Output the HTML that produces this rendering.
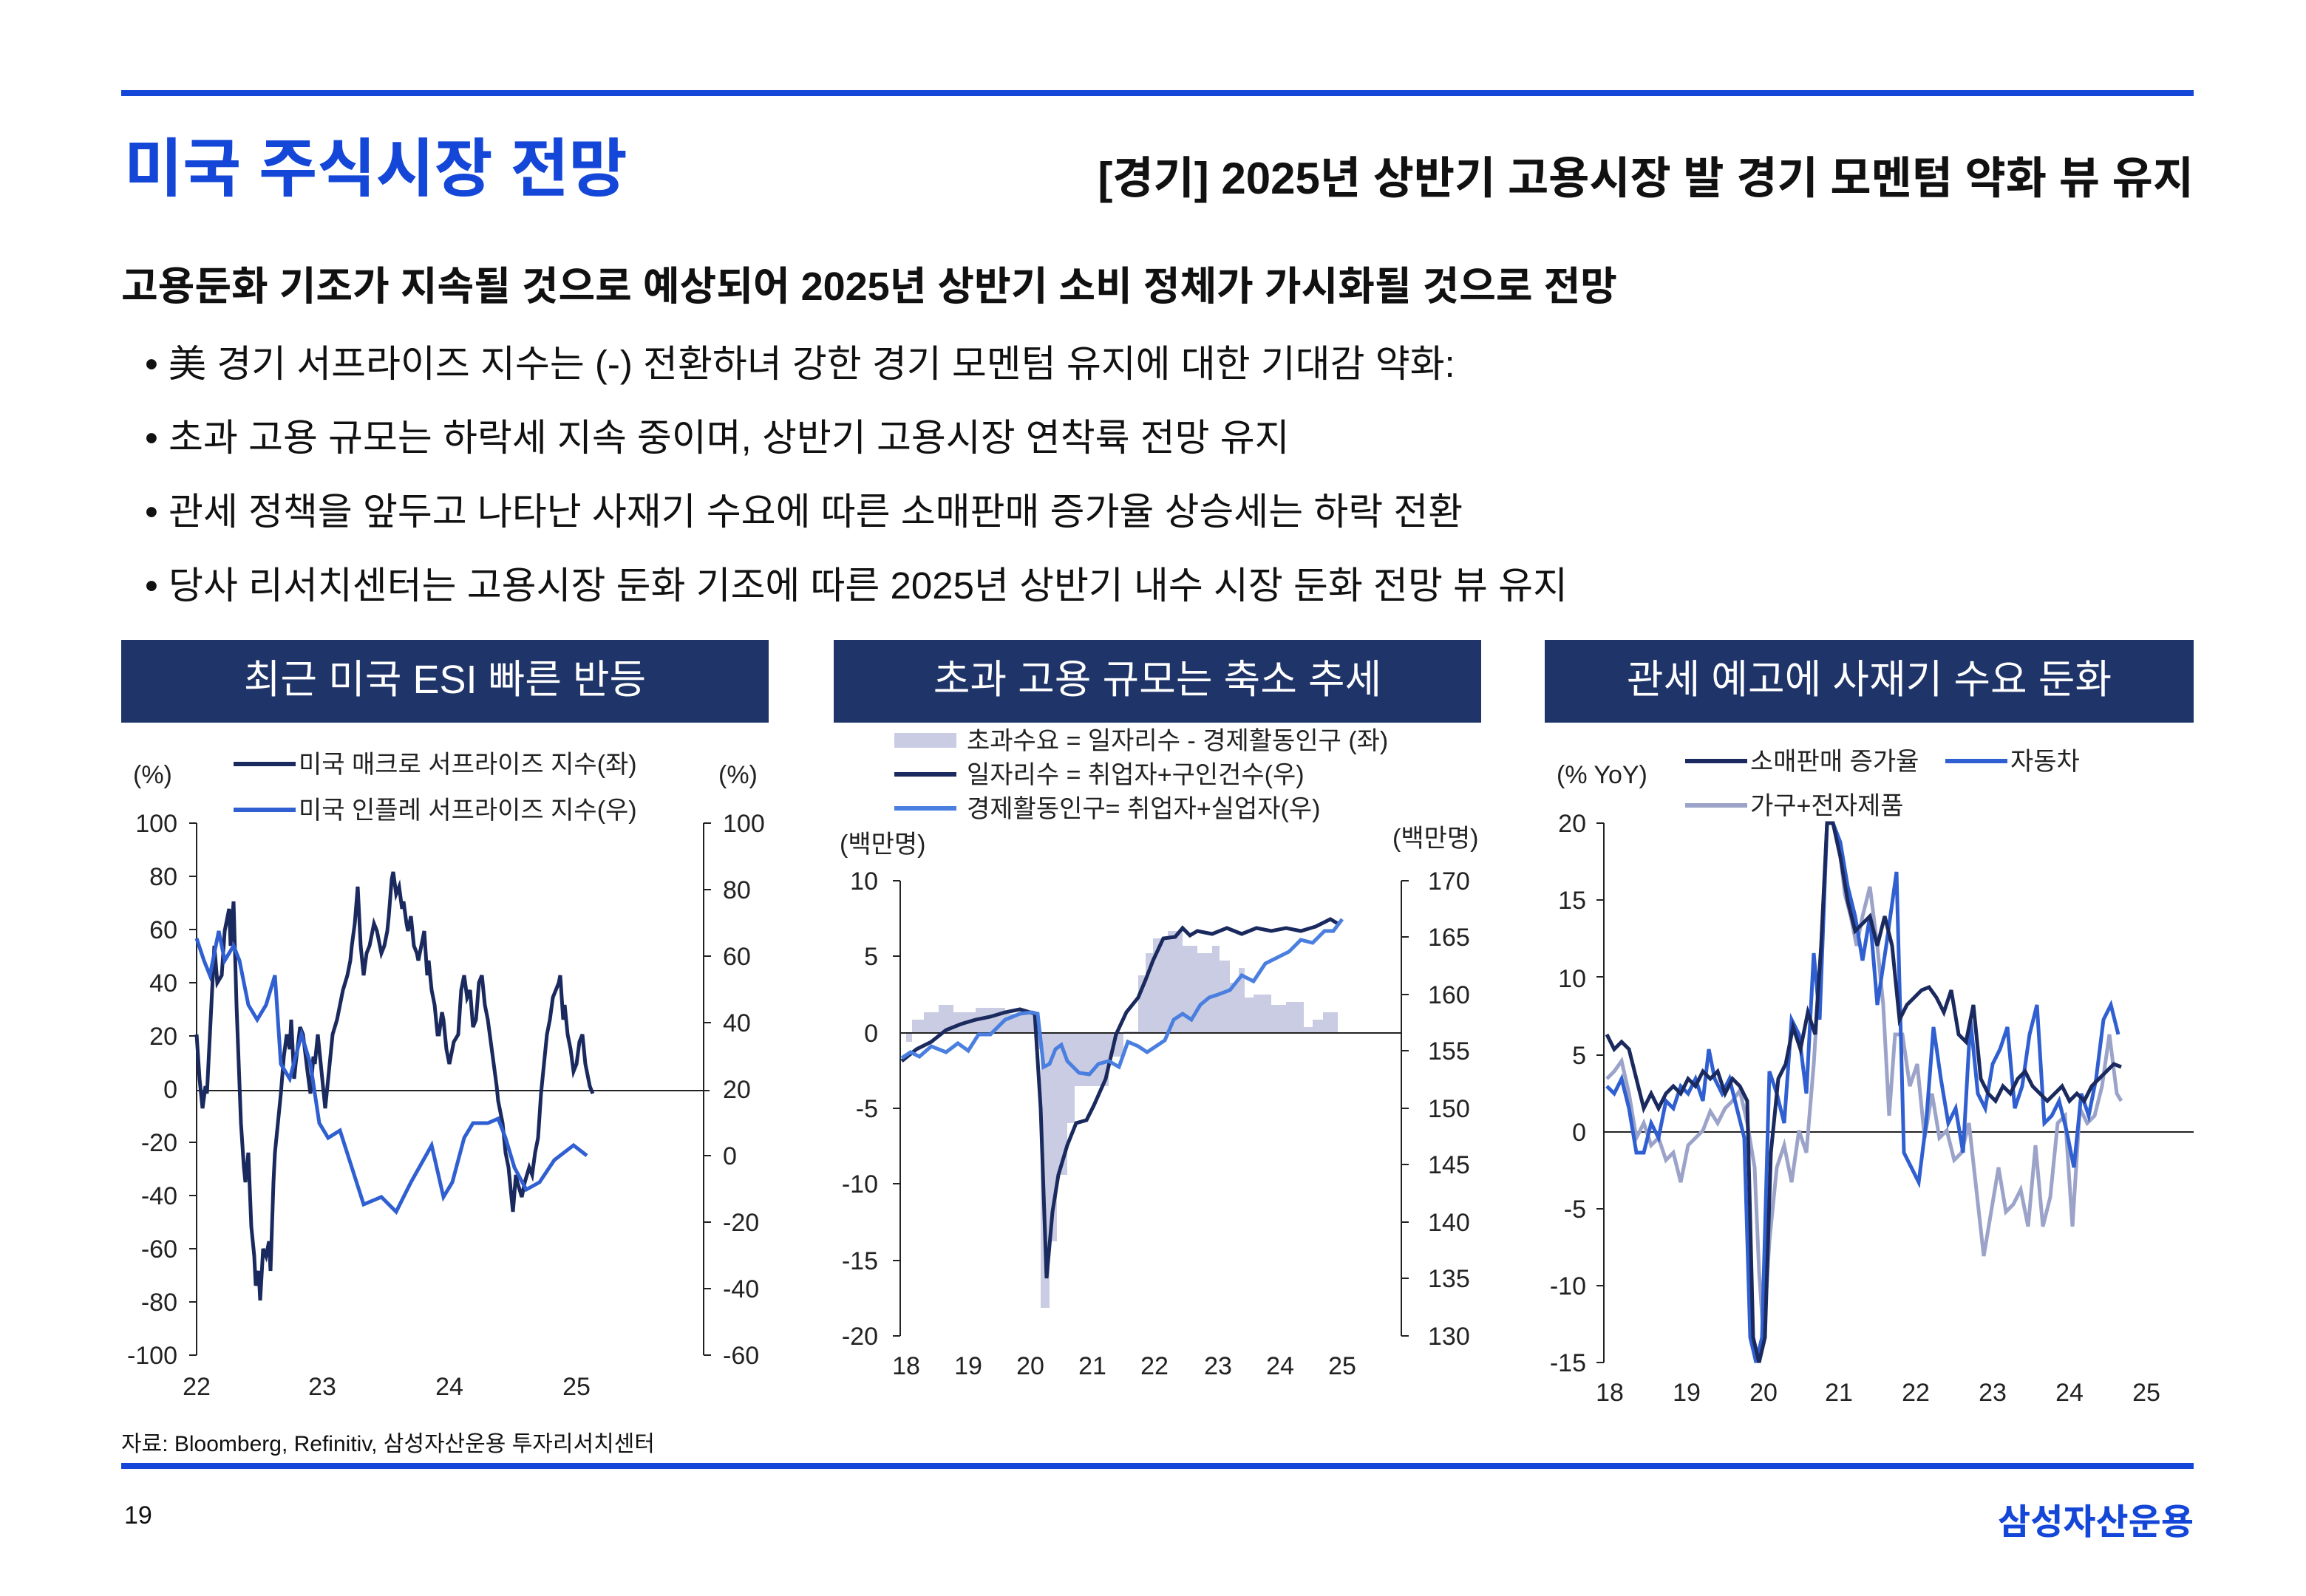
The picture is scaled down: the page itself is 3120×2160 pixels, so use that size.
<!DOCTYPE html>
<html><head><meta charset="utf-8"><style>
html,body{margin:0;padding:0;background:#fff;}
body{width:3120px;height:2160px;overflow:hidden;}
#w{position:absolute;left:0;top:0;width:1560px;height:1080px;transform:scale(2);transform-origin:0 0;font-family:"Liberation Sans","Noto Sans CJK KR",sans-serif;color:#111;}
.a{position:absolute;white-space:nowrap;}
.hd{position:absolute;top:433px;height:56px;background:#1f3468;color:#fff;font-size:27px;text-align:center;line-height:54px;}
svg text{font-family:"Liberation Sans","Noto Sans CJK KR",sans-serif;}
</style></head><body><div id="w">
<div class="a" style="left:82px;top:61px;width:1402px;height:4px;background:#1446d8"></div>
<div class="a" style="left:84px;top:80px;font-size:43px;font-weight:bold;color:#1446d8">미국 주식시장 전망</div>
<div class="a" style="right:76px;top:96px;font-size:30px;font-weight:bold">[경기] 2025년 상반기 고용시장 발 경기 모멘텀 약화 뷰 유지</div>
<div class="a" style="left:82px;top:172px;font-size:27px;font-weight:bold">고용둔화 기조가 지속될 것으로 예상되어 2025년 상반기 소비 정체가 가시화될 것으로 전망</div>
<div class="a" style="left:98px;top:226px;font-size:25.5px">• 美 경기 서프라이즈 지수는 (-) 전환하녀 강한 경기 모멘텀 유지에 대한 기대감 약화:</div>
<div class="a" style="left:98px;top:276px;font-size:25.5px">• 초과 고용 규모는 하락세 지속 중이며, 상반기 고용시장 연착륙 전망 유지</div>
<div class="a" style="left:98px;top:326px;font-size:25.5px">• 관세 정책을 앞두고 나타난 사재기 수요에 따른 소매판매 증가율 상승세는 하락 전환</div>
<div class="a" style="left:98px;top:376px;font-size:25.5px">• 당사 리서치센터는 고용시장 둔화 기조에 따른 2025년 상반기 내수 시장 둔화 전망 뷰 유지</div>
<div class="hd" style="left:82px;width:438px">최근 미국 ESI 빠른 반등</div>
<div class="hd" style="left:564px;width:438px">초과 고용 규모는 축소 추세</div>
<div class="hd" style="left:1045px;width:439px">관세 예고에 사재기 수요 둔화</div>
<svg class="a" style="left:0;top:0" width="1560" height="1080" font-size="17" fill="#222">
<g text-anchor="end"><text x="120" y="563">100</text><text x="120" y="599">80</text><text x="120" y="635">60</text><text x="120" y="671">40</text><text x="120" y="707">20</text><text x="120" y="743">0</text><text x="120" y="779">-20</text><text x="120" y="815">-40</text><text x="120" y="851">-60</text><text x="120" y="887">-80</text><text x="120" y="923">-100</text></g>
<text x="90" y="530">(%)</text><text x="486" y="530">(%)</text>
<g><text x="489" y="563">100</text><text x="489" y="608">80</text><text x="489" y="653">60</text><text x="489" y="698">40</text><text x="489" y="743">20</text><text x="489" y="788">0</text><text x="489" y="833">-20</text><text x="489" y="878">-40</text><text x="489" y="923">-60</text></g>
<g text-anchor="middle"><text x="133" y="944">22</text><text x="218" y="944">23</text><text x="304" y="944">24</text><text x="390" y="944">25</text></g>
<path d="M133 557V917M128 557h5M128 593h5M128 629h5M128 665h5M128 701h5M128 773h5M128 809h5M128 845h5M128 881h5M128 917h5M476 557V917M476 557h5M476 602h5M476 647h5M476 692h5M476 782h5M476 827h5M476 872h5M476 917h5M133 738H480" stroke="#222" stroke-width="1" fill="none"/>
<polyline fill="none" stroke="#1b2a5e" stroke-width="2.5" points="133,700 135,730 137,750 139,735 140,740 142,700 145,640 147,665 150,660 152,630 155,615 156,640 158,610 160,680 163,760 165,790 166,800 168,780 170,830 172,850 173,870 175,860 176,880 178,845 180,850 182,840 183,860 185,800 186,780 188,760 190,740 192,715 194,700 196,710 197,690 199,730 200,720 203,695 205,700 208,725 210,740 212,715 213,720 215,700 216,710 218,730 220,750 223,720 225,700 228,690 230,680 232,670 235,660 237,650 238,640 240,625 242,600 244,640 246,660 248,645 250,640 253,625 255,630 258,645 260,640 262,630 263,620 265,595 266,590 268,605 270,600 272,615 273,610 275,625 276,630 278,620 280,640 282,645 283,650 285,640 287,630 289,660 290,650 292,670 294,680 296,700 297,700 299,685 300,690 302,710 304,720 307,705 310,700 312,670 314,660 316,675 318,670 320,695 322,690 324,665 326,660 328,680 330,690 332,705 334,720 336,735 337,745 339,755 340,760 342,780 344,790 346,810 347,820 349,795 350,800 353,810 355,800 358,790 360,795 362,780 364,770 366,740 368,720 370,700 372,690 374,675 376,670 378,665 379,660 381,690 382,680 384,700 386,710 388,725 390,720 392,705 394,700 396,720 397,725 399,735 401,740"/>
<polyline fill="none" stroke="#2f5fd0" stroke-width="2.5" points="133,635 138,650 142,660 148,630 152,650 158,640 162,650 168,680 174,690 180,680 186,660 190,720 196,730 204,700 210,720 216,760 222,770 230,765 238,790 246,815 258,810 268,820 278,800 292,775 300,810 306,800 314,770 320,760 330,760 337,757 342,770 348,790 356,805 365,800 375,785 388,775 397,782"/>
<line x1="158" y1="517" x2="200" y2="517" stroke="#1b2a5e" stroke-width="3"/><text x="202" y="523">미국 매크로 서프라이즈 지수(좌)</text>
<line x1="158" y1="548" x2="200" y2="548" stroke="#2f5fd0" stroke-width="3"/><text x="202" y="554">미국 인플레 서프라이즈 지수(우)</text>
<g text-anchor="end"><text x="594" y="602">10</text><text x="594" y="653">5</text><text x="594" y="705">0</text><text x="594" y="756">-5</text><text x="594" y="807">-10</text><text x="594" y="859">-15</text><text x="594" y="910">-20</text></g>
<g><text x="966" y="602">170</text><text x="966" y="640">165</text><text x="966" y="679">160</text><text x="966" y="717">155</text><text x="966" y="756">150</text><text x="966" y="794">145</text><text x="966" y="833">140</text><text x="966" y="871">135</text><text x="966" y="910">130</text></g>
<text x="568" y="577">(백만명)</text><text x="942" y="573">(백만명)</text>
<g text-anchor="middle"><text x="613" y="930">18</text><text x="655" y="930">19</text><text x="697" y="930">20</text><text x="739" y="930">21</text><text x="781" y="930">22</text><text x="824" y="930">23</text><text x="866" y="930">24</text><text x="908" y="930">25</text></g>
<polygon fill="#c9cce2" points="613,699 613,705 617,705 617,690 625,690 625,685 635,685 635,680 645,680 645,685 660,685 660,682 680,682 680,686 700,686 700,710 704,710 704,885 710,885 710,840 715,840 715,795 722,795 722,760 727,760 727,735 750,735 750,715 760,715 760,698 770,698 770,660 775,660 775,645 780,645 780,635 790,635 790,630 800,630 800,640 810,640 810,645 820,645 820,640 825,640 825,650 832,650 832,665 838,665 838,655 842,655 842,675 848,675 848,673 860,673 860,680 870,680 870,678 882,678 882,695 888,695 888,690 895,690 895,685 905,685 905,699 908,699"/>
<path d="M609 596V904M604 596h5M604 647h5M604 750h5M604 801h5M604 853h5M604 904h5M948 596V904M948 596h5M948 634h5M948 673h5M948 711h5M948 750h5M948 788h5M948 827h5M948 865h5M948 904h5M609 699H948" stroke="#222" stroke-width="1" fill="none"/>
<polyline fill="none" stroke="#1b2a5e" stroke-width="2.5" points="610,718 620,710 630,705 640,697 650,693 660,690 670,688 680,685 690,683 700,686 704,750 708,865 712,820 716,795 722,775 728,760 735,758 740,748 748,730 755,700 762,685 770,675 775,663 780,650 787,635 795,634 800,628 805,633 810,630 820,632 830,628 840,632 850,628 860,630 870,628 880,630 890,627 900,622 905,625"/>
<polyline fill="none" stroke="#4a7fe0" stroke-width="2.5" points="610,716 616,712 622,715 630,708 640,712 648,706 655,711 662,700 670,700 680,690 690,686 698,685 702,686 706,722 710,720 714,710 718,707 722,718 730,726 737,727 743,720 750,718 757,722 763,705 770,708 776,712 782,708 788,704 794,690 800,686 806,690 812,680 818,675 824,673 832,670 840,660 848,664 856,652 864,648 872,644 880,636 888,638 896,630 902,630 908,622"/>
<rect x="605" y="496" width="42" height="10" fill="#c9cce2"/><text x="654" y="507">초과수요 = 일자리수 - 경제활동인구 (좌)</text>
<line x1="605" y1="524" x2="647" y2="524" stroke="#1b2a5e" stroke-width="3"/><text x="654" y="530">일자리수 = 취업자+구인건수(우)</text>
<line x1="605" y1="547" x2="647" y2="547" stroke="#4a7fe0" stroke-width="3"/><text x="654" y="553">경제활동인구= 취업자+실업자(우)</text>
<g text-anchor="end"><text x="1073" y="563">20</text><text x="1073" y="615">15</text><text x="1073" y="668">10</text><text x="1073" y="720">5</text><text x="1073" y="772">0</text><text x="1073" y="824">-5</text><text x="1073" y="876">-10</text><text x="1073" y="928">-15</text></g>
<text x="1053" y="530">(% YoY)</text>
<g text-anchor="middle"><text x="1089" y="948">18</text><text x="1141" y="948">19</text><text x="1193" y="948">20</text><text x="1244" y="948">21</text><text x="1296" y="948">22</text><text x="1348" y="948">23</text><text x="1400" y="948">24</text><text x="1452" y="948">25</text></g>
<path d="M1085 557V922M1080 557h5M1080 609h5M1080 661h5M1080 714h5M1080 818h5M1080 870h5M1080 922h5M1085 766H1484" stroke="#222" stroke-width="1" fill="none"/>
<polyline fill="none" stroke="#9ba3c9" stroke-width="2.5" points="1087,730 1092,725 1097,718 1102,740 1107,770 1112,760 1117,775 1122,770 1127,785 1132,780 1137,800 1142,775 1147,770 1152,765 1157,752 1162,760 1167,750 1172,745 1177,738 1182,760 1187,790 1190,860 1193,905 1197,840 1202,790 1207,775 1212,800 1217,765 1222,780 1227,720 1232,640 1236,557 1240,557 1244,570 1248,605 1252,620 1256,640 1260,620 1265,600 1270,640 1274,680 1278,755 1282,700 1287,700 1292,735 1297,720 1302,770 1307,740 1312,770 1317,765 1322,785 1327,780 1332,760 1337,805 1342,850 1347,820 1352,790 1357,820 1362,815 1367,805 1372,830 1377,775 1382,830 1387,810 1392,760 1397,755 1402,830 1407,750 1412,760 1417,755 1422,735 1427,700 1432,740 1435,745"/>
<polyline fill="none" stroke="#2f5fd0" stroke-width="2.5" points="1087,735 1092,740 1097,730 1102,750 1107,780 1112,780 1117,760 1122,770 1127,745 1132,750 1137,735 1142,740 1147,730 1152,745 1156,710 1160,730 1165,740 1170,730 1175,750 1180,770 1184,905 1188,922 1192,905 1197,725 1202,740 1207,760 1212,690 1217,700 1222,740 1227,645 1231,690 1236,557 1240,557 1245,570 1250,600 1255,620 1260,650 1265,620 1270,680 1276,640 1283,590 1288,780 1293,790 1298,800 1303,760 1308,695 1313,730 1318,760 1323,750 1328,780 1333,690 1338,740 1343,750 1348,720 1353,710 1358,695 1363,750 1368,735 1373,700 1378,680 1383,760 1388,755 1393,745 1398,765 1403,790 1408,740 1413,755 1418,730 1423,690 1428,680 1433,700"/>
<polyline fill="none" stroke="#1b2a5e" stroke-width="2.5" points="1087,700 1092,710 1097,705 1102,710 1107,730 1112,750 1117,740 1122,750 1127,740 1132,735 1137,740 1142,730 1147,735 1152,725 1157,730 1162,725 1167,740 1172,730 1177,735 1182,745 1186,905 1190,922 1194,905 1198,780 1203,730 1208,720 1213,695 1218,710 1223,685 1228,700 1232,640 1236,557 1240,557 1245,580 1250,610 1255,630 1260,625 1265,620 1270,640 1275,620 1280,640 1285,690 1290,680 1295,675 1300,670 1305,668 1310,675 1315,685 1320,670 1325,700 1330,705 1335,680 1340,730 1345,740 1350,745 1355,735 1360,740 1365,730 1370,725 1375,735 1380,740 1385,745 1390,740 1395,735 1400,745 1405,740 1410,745 1415,735 1420,730 1425,725 1430,720 1435,722"/>
<line x1="1140" y1="515" x2="1182" y2="515" stroke="#1b2a5e" stroke-width="3"/><text x="1184" y="521">소매판매 증가율</text>
<line x1="1316" y1="515" x2="1358" y2="515" stroke="#2f5fd0" stroke-width="3"/><text x="1360" y="521">자동차</text>
<line x1="1140" y1="545" x2="1182" y2="545" stroke="#9ba3c9" stroke-width="3"/><text x="1184" y="551">가구+전자제품</text>
</svg>
<div class="a" style="left:82px;top:966px;font-size:15px">자료: Bloomberg, Refinitiv, 삼성자산운용 투자리서치센터</div>
<div class="a" style="left:82px;top:990px;width:1402px;height:4px;background:#1446d8"></div>
<div class="a" style="left:84px;top:1016px;font-size:17px">19</div>
<div class="a" style="right:76px;top:1010px;font-size:24px;font-weight:bold;color:#1446d8">삼성자산운용</div>
</div></body></html>
